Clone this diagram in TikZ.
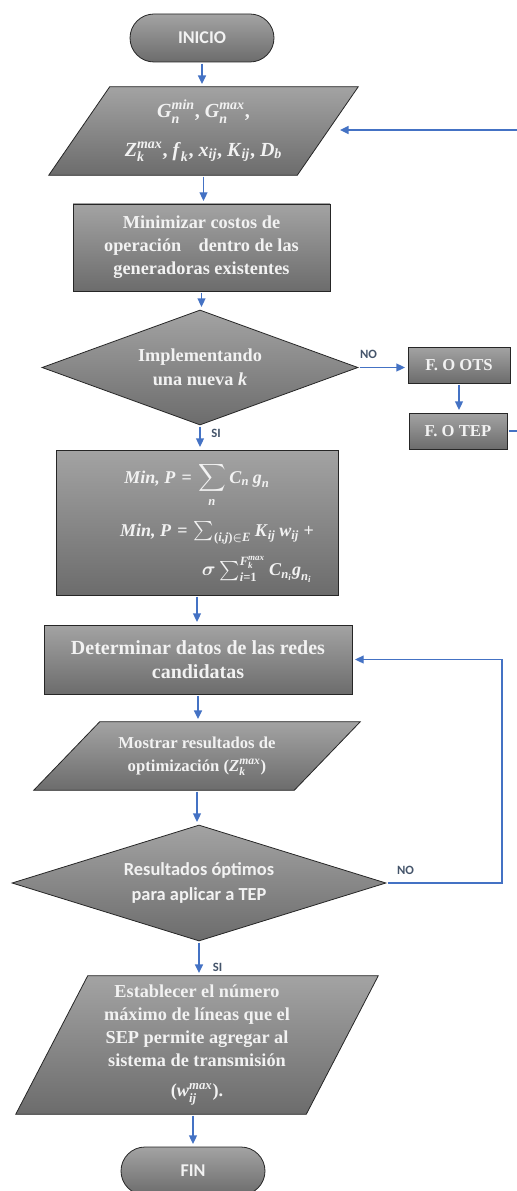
\documentclass[tikz,border=0pt]{standalone}
\usepackage{amsmath}
\usepackage{bm}
\usepackage{fontspec}
\setmainfont{Liberation Serif}
\newfontfamily\calfont{Carlito}
\usetikzlibrary{shapes.geometric,arrows.meta,calc,backgrounds}
\definecolor{gtop}{RGB}{163,163,163}
\definecolor{gbot}{RGB}{108,108,108}
\definecolor{edgecol}{RGB}{38,38,38}
\definecolor{arrblue}{RGB}{68,114,196}
\definecolor{labcol}{RGB}{68,84,106}
\definecolor{txtcol}{RGB}{242,242,242}
\newcommand{\bi}[1]{\textbf{\textit{#1}}}
\newcommand{\beq}{\mathrel{\textbf{=}}}
\tikzset{
  shadebox/.style={draw=edgecol, line width=0.6pt, top color=gtop, bottom color=gbot},
  flowbox/.style={shadebox, text=txtcol, align=center, inner sep=1pt},
  termbox/.style={flowbox, rectangle, rounded corners=18pt, minimum width=108pt, minimum height=36pt, font=\calfont\bfseries\fontsize{13.5}{16}\selectfont},
  procbox/.style={flowbox, rectangle},
  decbox/.style={flowbox, diamond, inner sep=0pt},
  iobox/.style={rectangle, text=txtcol, align=center, inner sep=1pt},
  serifbig/.style={font=\boldmath\bfseries\fontsize{13.7}{17.25}\selectfont},
  arr/.style={draw=arrblue, line width=1.1pt, -{Triangle[length=6.5pt,width=6pt]}, shorten >=2pt, shorten <=1pt},
  lab/.style={font=\calfont\bfseries\fontsize{9.5}{11}\selectfont, text=labcol, inner sep=0pt},
}
\newcommand{\iobg}[2]{%
  \begin{scope}[on background layer]
    \path[shadebox] ($(#1.north west)+(#2,0)$) -- (#1.north east) -- ($(#1.south east)-(#2,0)$) -- (#1.south west) -- cycle;
  \end{scope}}
\begin{document}
\begin{tikzpicture}[x=0.75pt,y=-0.75pt]
\useasboundingbox (0,0) rectangle (517,1191);
\clip (0,0) rectangle (517,1191);

\node[termbox] (ini) at (202,38) {INICIO};

\node[iobox, minimum width=231.75pt, minimum height=66pt, font=\boldmath\bfseries\fontsize{15}{17}\selectfont] (in1) at (203.5,131)
  {$\bi{G}_{\bi{n}}^{\bi{min}}\textbf{, }\bi{G}_{\bi{n}}^{\bi{max}}\textbf{,}$\\[12pt]%
   $\bi{Z}_{\bi{k}}^{\bi{max}}\textbf{, }\bi{f}_{\bi{k}}\textbf{, }\bi{x}_{\bi{ij}}\textbf{, }\bi{K}_{\bi{ij}}\textbf{, }\bi{D}_{\bi{b}}$};
\iobg{in1}{61}

\node[procbox, serifbig, minimum width=192.75pt, minimum height=65.25pt] (min) at (201.5,247.5)
  {Minimizar costos de\\operación\hspace{0.7em} dentro de las\\generadoras existentes};

\node[decbox, font=\bfseries\fontsize{13.7}{18}\selectfont, minimum width=237pt, minimum height=86.25pt, aspect=2.75] (d1) at (200,367.5)
  {Implementando\\una nueva \textit{k}};

\node[procbox, font=\bfseries\fontsize{12.5}{15}\selectfont, minimum width=76.5pt, minimum height=27pt] (ots) at (459,365) {F. O OTS};
\node[procbox, font=\bfseries\fontsize{12.5}{15}\selectfont, minimum width=73.5pt, minimum height=27pt] (tep) at (458,431) {F. O TEP};

\node[procbox, minimum width=211.5pt, minimum height=108.75pt, font=\boldmath\bfseries\fontsize{13.5}{16}\selectfont] (res) at (197,522.5) {%
  \begin{tabular}{@{}c@{}}
  $\displaystyle \bi{Min, P}\beq\sum_{\bi{n}}\bi{C}_{\bi{n}}\,\bi{g}_{\bi{n}}$\\[24pt]
  \hspace*{30pt}$\bi{Min, P}\beq\sum_{\textbf{(}\bi{i,j}\textbf{)}\boldsymbol{\in}\bi{E}}\bi{K}_{\bi{ij}}\,\bi{w}_{\bi{ij}}\textbf{ +}$\\[10pt]
  \hspace*{90pt}$\boldsymbol{\sigma}\sum_{\bi{i}\textbf{=1}}^{\bi{F}_{\bi{k}}^{\bi{max}}}\bi{C}_{\bi{n}_{\bi{i}}}\bi{g}_{\bi{n}_{\bi{i}}}$
  \end{tabular}};

\node[procbox, font=\bfseries\fontsize{15}{18}\selectfont, minimum width=231pt, minimum height=51.75pt] (det) at (198,659.5)
  {Determinar datos de las redes\\candidatas};

\node[iobox, font=\bfseries\fontsize{12.5}{17}\selectfont, minimum width=244.5pt, minimum height=51pt] (in2) at (197,756)
  {Mostrar resultados de\\optimización ($\bi{Z}_{\bi{k}}^{\bi{max}}$)};
\iobg{in2}{66}

\node[decbox, font=\calfont\bfseries\fontsize{13.8}{18.5}\selectfont, minimum width=280.5pt, minimum height=87pt, aspect=3.2] (d2) at (199,883)
  {Resultados óptimos\\para aplicar a TEP};

\node[iobox, serifbig, minimum width=271.5pt, minimum height=103.5pt] (in3) at (197,1045)
  {Establecer el número\\máximo de líneas que el\\SEP permite agregar al\\sistema de transmisión\\[5pt]($\bi{w}_{\bi{ij}}^{\bi{max}}$).};
\iobg{in3}{72}

\node[termbox] (fin) at (193,1171) {FIN};

% labels
\node[lab] (no1) at (368.5,354) {NO};
\node[lab] (si1) at (216,433) {SI};
\node[lab] (no2) at (405.5,870.5) {NO};
\node[lab] (si2) at (217.5,967.5) {SI};

% connectors
\coordinate (rr) at (545,0);
\coordinate (rr2) at (502,0);
\coordinate (in1in) at ($(in1.east)+(-21,-1)$);

\draw[arr] (ini.south) -- (ini.south |- in1.north);
\draw[arr] (in1.south) -- (in1.south |- min.north);
\draw[arr] (min.south) -- (min.south |- d1.north);
\draw[arr] (d1.east) -- (d1.east -| ots.west);
\draw[arr] (ots.south) -- (ots.south |- tep.north);
\draw[arr] (tep.east) -- (tep.east -| rr) |- (in1in);
\draw[arr] (d1.south) -- (d1.south |- res.north);
\draw[arr] (res.south) -- (res.south |- det.north);
\draw[arr] (det.south) -- (det.south |- in2.north);
\draw[arr] (in2.south) -- (in2.south |- d2.north);
\draw[arr] (d2.east) -- (d2.east -| rr2) |- (det.east);
\draw[arr] (d2.south) -- (d2.south |- in3.north);
\draw[arr] (in3.south -| fin.north) -- (fin.north);
\end{tikzpicture}
\end{document}
